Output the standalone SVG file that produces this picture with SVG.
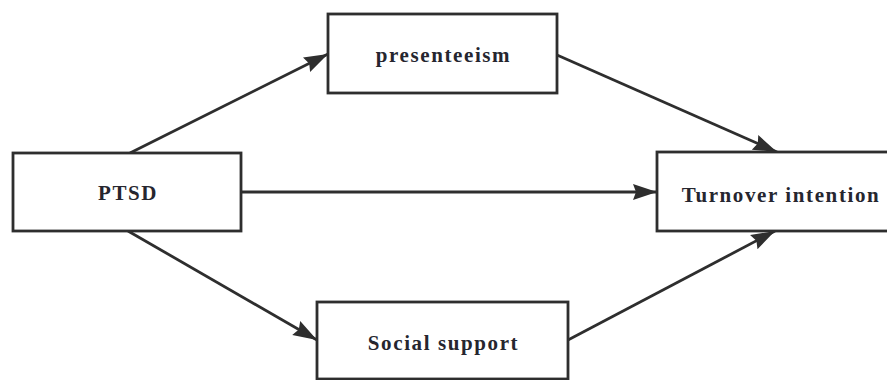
<svg xmlns="http://www.w3.org/2000/svg" width="887" height="380" viewBox="0 0 887 380">
<defs>
<style>
.box{fill:#fff;stroke:#2e2e2e;stroke-width:2.8}
.lbl{font-family:"Liberation Serif","Times New Roman",serif;font-weight:bold;font-size:21px;letter-spacing:1.6px;fill:#26262f;text-anchor:middle}
.edge{fill:none;stroke:#2e2e2e;stroke-width:2.8}
</style>
<marker id="arr" markerUnits="userSpaceOnUse" markerWidth="25" markerHeight="18" refX="24" refY="8.5" orient="auto">
<path d="M0,0.5 L24,8.5 L0,16.5 L3,8.5 z" fill="#2e2e2e"/>
</marker>
</defs>
<rect width="887" height="380" fill="#fff"/>
<g id="connectors">
<line class="edge" x1="130" y1="153" x2="328" y2="54" marker-end="url(#arr)"/>
<line class="edge" x1="241" y1="192" x2="657" y2="192" marker-end="url(#arr)"/>
<line class="edge" x1="128" y1="231" x2="317" y2="340" marker-end="url(#arr)"/>
<line class="edge" x1="557" y1="55" x2="777" y2="152" marker-end="url(#arr)"/>
<line class="edge" x1="568" y1="340" x2="775" y2="231" marker-end="url(#arr)"/>
</g>
<g id="ptsd">
<rect class="box" x="13" y="153" width="228" height="78"/>
<text class="lbl" x="128" y="200">PTSD</text>
</g>
<g id="presenteeism">
<rect class="box" x="328" y="14" width="229" height="79"/>
<text class="lbl" x="443.5" y="62">presenteeism</text>
</g>
<g id="turnover">
<rect class="box" x="657" y="152" width="246" height="79"/>
<text class="lbl" x="781" y="202">Turnover intention</text>
</g>
<g id="social">
<rect class="box" x="317" y="302" width="251" height="77"/>
<text class="lbl" x="443.5" y="350">Social support</text>
</g>
</svg>
